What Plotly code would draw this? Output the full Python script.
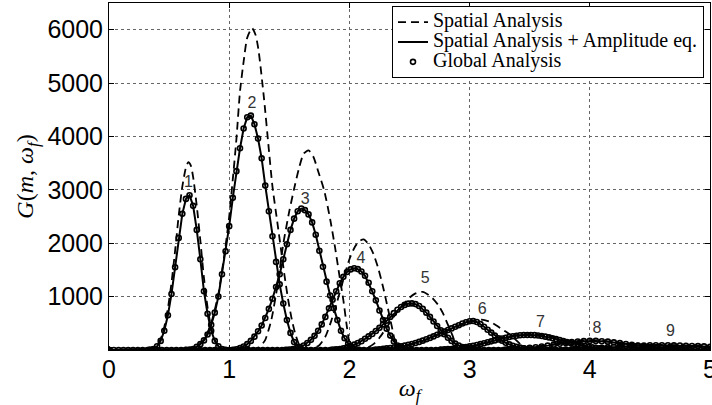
import plotly.graph_objects as go

# ---------------- data ----------------
OMEGA_TICKS = [0, 1, 2, 3, 4, 5]
G_TICKS = [1000, 2000, 3000, 4000, 5000, 6000]

# Spatial Analysis + Amplitude eq. (solid) / Global Analysis (circles), per mode
W_M1 = [0.00, 0.34, 0.37, 0.40, 0.43, 0.46, 0.49, 0.52, 0.55, 0.58, 0.61, 0.64, 0.67, 0.70, 0.73, 0.76, 0.79, 0.82, 0.85, 0.88, 0.91, 0.94, 0.97, 5.00]
G_M1 = [0, 8, 20, 70, 170, 360, 650, 1050, 1550, 2100, 2550, 2830, 2900, 2700, 2250, 1700, 1100, 680, 360, 170, 70, 20, 5, 0]

W_M2 = [0.00, 0.64, 0.67, 0.70, 0.73, 0.76, 0.79, 0.82, 0.85, 0.88, 0.91, 0.94, 0.97, 1.00, 1.03, 1.06, 1.09, 1.12, 1.15, 1.18, 1.21, 1.24, 1.27, 1.30, 1.33, 1.36, 1.39, 1.42, 1.45, 1.48, 1.51, 1.54, 1.57, 1.60, 5.00]
G_M2 = [0, 5, 10, 20, 60, 110, 180, 290, 470, 700, 1000, 1420, 1850, 2320, 2850, 3350, 3780, 4150, 4360, 4390, 4230, 3960, 3590, 3080, 2600, 2130, 1650, 1230, 870, 560, 320, 150, 60, 15, 0]

W_M3 = [0.00, 1.03, 1.06, 1.09, 1.12, 1.15, 1.18, 1.21, 1.24, 1.27, 1.30, 1.33, 1.36, 1.39, 1.42, 1.45, 1.48, 1.51, 1.54, 1.57, 1.60, 1.63, 1.66, 1.69, 1.72, 1.75, 1.78, 1.81, 1.84, 1.87, 1.90, 1.93, 1.96, 1.99, 2.02, 2.05, 2.08, 5.00]
G_M3 = [0, 5, 15, 35, 65, 110, 170, 250, 350, 460, 600, 770, 960, 1180, 1420, 1700, 1980, 2250, 2460, 2600, 2650, 2620, 2540, 2390, 2160, 1860, 1560, 1280, 1020, 780, 560, 360, 220, 120, 55, 20, 5, 0]

W_M4 = [0.00, 1.47, 1.50, 1.53, 1.56, 1.59, 1.62, 1.65, 1.68, 1.71, 1.74, 1.77, 1.80, 1.83, 1.86, 1.89, 1.92, 1.95, 1.98, 2.01, 2.04, 2.07, 2.10, 2.13, 2.16, 2.19, 2.22, 2.25, 2.28, 2.31, 2.34, 2.37, 2.40, 2.43, 2.46, 2.49, 5.00]
G_M4 = [0, 5, 10, 20, 35, 55, 85, 130, 190, 265, 360, 480, 620, 780, 940, 1100, 1250, 1370, 1460, 1510, 1530, 1515, 1470, 1390, 1260, 1100, 930, 740, 560, 400, 270, 160, 85, 40, 15, 5, 0]

W_M5 = [0.00, 1.86, 1.89, 1.92, 1.95, 1.98, 2.01, 2.04, 2.07, 2.10, 2.13, 2.16, 2.19, 2.22, 2.25, 2.28, 2.31, 2.34, 2.37, 2.40, 2.43, 2.46, 2.49, 2.52, 2.55, 2.58, 2.61, 2.64, 2.67, 2.70, 2.73, 2.76, 2.79, 2.82, 2.85, 2.88, 2.91, 2.94, 2.97, 3.00, 3.03, 5.00]
G_M5 = [0, 10, 15, 20, 30, 50, 75, 100, 130, 165, 210, 255, 300, 355, 415, 480, 550, 620, 690, 755, 805, 845, 868, 873, 860, 825, 770, 700, 620, 535, 450, 370, 295, 230, 170, 120, 85, 55, 30, 15, 5, 0]

W_M6 = [0.00, 2.22, 2.25, 2.28, 2.31, 2.34, 2.37, 2.40, 2.43, 2.46, 2.49, 2.52, 2.55, 2.58, 2.61, 2.64, 2.67, 2.70, 2.73, 2.76, 2.79, 2.82, 2.85, 2.88, 2.91, 2.94, 2.97, 3.00, 3.03, 3.06, 3.09, 3.12, 3.15, 3.18, 3.21, 3.24, 3.27, 3.30, 3.33, 3.36, 3.39, 3.42, 3.45, 3.48, 3.51, 5.00]
G_M6 = [0, 10, 15, 22, 30, 38, 48, 58, 68, 82, 97, 113, 132, 152, 175, 200, 227, 255, 285, 315, 345, 375, 405, 435, 465, 495, 520, 538, 542, 525, 485, 435, 380, 325, 270, 220, 175, 135, 105, 80, 62, 45, 32, 20, 10, 0]

W_M7 = [0.00, 2.76, 2.79, 2.82, 2.85, 2.88, 2.91, 2.94, 2.97, 3.00, 3.03, 3.06, 3.09, 3.12, 3.15, 3.18, 3.21, 3.24, 3.27, 3.30, 3.33, 3.36, 3.39, 3.42, 3.45, 3.48, 3.51, 3.54, 3.57, 3.60, 3.63, 3.66, 3.69, 3.72, 3.75, 3.78, 3.81, 3.84, 3.87, 3.90, 3.93, 3.96, 3.99, 4.02, 4.05, 4.08, 4.11, 4.14, 4.17, 5.00]
G_M7 = [0, 10, 13, 16, 20, 27, 35, 45, 55, 67, 80, 95, 110, 127, 145, 162, 180, 198, 215, 230, 245, 257, 268, 275, 280, 282, 282, 278, 272, 262, 250, 236, 220, 203, 185, 167, 150, 132, 115, 100, 85, 72, 60, 50, 40, 32, 25, 18, 12, 0]

W_M8 = [0.00, 3.30, 3.35, 3.40, 3.45, 3.50, 3.55, 3.60, 3.65, 3.70, 3.75, 3.80, 3.85, 3.90, 3.95, 4.00, 4.05, 4.10, 4.15, 4.20, 4.25, 4.30, 4.35, 4.40, 4.45, 4.50, 4.55, 4.60, 4.65, 4.70, 4.75, 4.80, 5.00]
G_M8 = [0, 10, 15, 22, 30, 40, 52, 66, 82, 100, 117, 133, 147, 158, 166, 170, 170, 165, 156, 143, 128, 112, 97, 82, 68, 55, 44, 34, 26, 19, 13, 8, 0]

W_M9 = [0.00, 3.80, 3.85, 3.90, 3.95, 4.00, 4.05, 4.10, 4.15, 4.20, 4.25, 4.30, 4.35, 4.40, 4.45, 4.50, 4.55, 4.60, 4.65, 4.70, 4.75, 4.80, 4.85, 4.90, 4.95, 5.00]
G_M9 = [0, 10, 14, 18, 23, 29, 36, 43, 50, 57, 64, 70, 76, 81, 85, 88, 90, 90, 89, 87, 84, 80, 76, 72, 67, 62]

# Spatial Analysis (dashed), per mode
WD_M1 = [0.00, 0.34, 0.37, 0.40, 0.43, 0.46, 0.49, 0.52, 0.55, 0.58, 0.61, 0.64, 0.66, 0.68, 0.70, 0.73, 0.76, 0.79, 0.82, 0.85, 0.88, 0.91, 0.94, 0.97, 5.00]
GD_M1 = [0, 10, 25, 85, 205, 430, 780, 1260, 1860, 2520, 3060, 3420, 3520, 3460, 3240, 2700, 2050, 1350, 800, 420, 190, 75, 20, 5, 0]

WD_M2 = [0.00, 0.67, 0.73, 0.79, 0.85, 0.91, 0.97, 1.00, 1.03, 1.06, 1.09, 1.12, 1.15, 1.19, 1.22, 1.245, 1.29, 1.33, 1.36, 1.40, 1.43, 1.46, 1.49, 1.52, 1.55, 1.58, 1.61, 5.00]
GD_M2 = [0, 15, 60, 190, 500, 1050, 1950, 2500, 3200, 3950, 4850, 5400, 5850, 6030, 5900, 5600, 4700, 3750, 3060, 2400, 1900, 1400, 950, 580, 300, 110, 20, 0]

WD_M3 = [0.00, 1.20, 1.25, 1.30, 1.35, 1.40, 1.45, 1.50, 1.54, 1.58, 1.62, 1.66, 1.70, 1.74, 1.79, 1.84, 1.88, 1.92, 1.95, 1.98, 2.00, 2.02, 5.00]
GD_M3 = [0, 15, 50, 190, 560, 1180, 1990, 2600, 3020, 3400, 3680, 3740, 3620, 3350, 2990, 2450, 1930, 1350, 930, 420, 140, 20, 0]

WD_M4 = [0.00, 1.65, 1.70, 1.75, 1.80, 1.85, 1.90, 1.95, 2.00, 2.05, 2.09, 2.12, 2.16, 2.20, 2.24, 2.28, 2.32, 2.35, 2.38, 2.40, 5.00]
GD_M4 = [0, 10, 30, 90, 250, 550, 920, 1320, 1700, 1950, 2050, 2070, 1980, 1800, 1530, 1180, 780, 470, 150, 20, 0]

WD_M5 = [0.00, 2.10, 2.15, 2.20, 2.25, 2.30, 2.35, 2.40, 2.45, 2.50, 2.55, 2.61, 2.66, 2.70, 2.74, 2.78, 2.82, 2.86, 2.88, 2.90, 5.00]
GD_M5 = [0, 15, 40, 110, 230, 390, 560, 720, 860, 980, 1060, 1090, 1030, 950, 840, 680, 470, 260, 110, 20, 0]

WD_M6 = [0.00, 2.40, 2.50, 2.60, 2.70, 2.80, 2.90, 3.00, 3.06, 3.10, 3.17, 3.22, 3.26, 3.30, 3.34, 3.38, 3.42, 3.46, 5.00]
GD_M6 = [0, 40, 90, 160, 250, 350, 440, 530, 565, 570, 530, 465, 405, 345, 280, 200, 110, 30, 0]

WD_M7 = [0.00, 2.90, 3.00, 3.10, 3.20, 3.30, 3.40, 3.50, 3.60, 3.70, 3.80, 3.90, 4.00, 4.08, 5.00]
GD_M7 = [0, 20, 50, 100, 170, 240, 285, 300, 285, 240, 170, 100, 40, 5, 0]

WD_M8 = [0.00, 3.40, 3.60, 3.80, 3.95, 4.05, 4.20, 4.40, 4.60, 4.75, 5.00]
GD_M8 = [0, 25, 75, 145, 180, 182, 150, 85, 30, 5, 0]

WD_M9 = [0.00, 3.90, 4.10, 4.30, 4.50, 4.60, 4.80, 5.00]
GD_M9 = [0, 20, 48, 78, 95, 97, 87, 68]

# Global Analysis points lying on the zero baseline
BASE_W = [0.00, 0.04, 0.08, 0.12, 0.16, 0.20, 0.24, 0.28, 0.32, 0.36, 0.40, 0.44, 0.48, 0.52, 0.56, 0.60, 0.64, 0.68, 0.72, 0.76, 0.80, 0.84, 0.88, 0.92, 0.96,
          1.00, 1.04, 1.08, 1.12, 1.16, 1.20, 1.24, 1.28, 1.32, 1.36, 1.40, 1.44, 1.48, 1.52, 1.56, 1.60, 1.64, 1.68, 1.72, 1.76, 1.80, 1.84, 1.88, 1.92, 1.96,
          2.00, 2.04, 2.08, 2.12, 2.16, 2.20, 2.24, 2.28, 2.32, 2.36, 2.40, 2.44, 2.48, 2.52, 2.56, 2.60, 2.64, 2.68, 2.72, 2.76, 2.80, 2.84, 2.88, 2.92, 2.96,
          3.00, 3.04, 3.08, 3.12, 3.16, 3.20, 3.24, 3.28, 3.32, 3.36, 3.40, 3.44, 3.48, 3.52, 3.56, 3.60, 3.64, 3.68, 3.72, 3.76, 3.80, 3.84, 3.88, 3.92, 3.96,
          4.00, 4.04, 4.08, 4.12, 4.16, 4.20, 4.24, 4.28, 4.32, 4.36, 4.40, 4.44, 4.48, 4.52, 4.56, 4.60, 4.64, 4.68, 4.72, 4.76, 4.80, 4.84, 4.88, 4.92, 4.96, 5.00]
BASE_G = [0] * len(BASE_W)

# Mode-number labels
LABEL_TEXT = ["1", "2", "3", "4", "5", "6", "7", "8", "9"]
LABEL_W = [0.66, 1.19, 1.633, 2.097, 2.63, 3.105, 3.59, 4.06, 4.67]
LABEL_G = [3130, 4610, 2816, 1713, 1321, 748, 498, 386, 342]

SERIES_NAMES = ["Spatial Analysis", "Spatial Analysis + Amplitude eq.", "Global Analysis"]

SOLID = [(W_M1, G_M1), (W_M2, G_M2), (W_M3, G_M3), (W_M4, G_M4), (W_M5, G_M5),
         (W_M6, G_M6), (W_M7, G_M7), (W_M8, G_M8), (W_M9, G_M9)]
DASHED = [(WD_M1, GD_M1), (WD_M2, GD_M2), (WD_M3, GD_M3), (WD_M4, GD_M4), (WD_M5, GD_M5),
          (WD_M6, GD_M6), (WD_M7, GD_M7), (WD_M8, GD_M8), (WD_M9, GD_M9)]

# ---------------- figure ----------------
fig = go.Figure()
SERIF = "Liberation Serif"
SANS = "Liberation Sans"
CIRCLE = dict(symbol="circle-open", size=5, color="black", line=dict(width=1.6))


def legend_name(s):
    return '<span style="font-size:20px">' + s + '</span>'


# mode numbers drawn first so the curves pass over them
fig.add_trace(go.Scatter(x=LABEL_W, y=LABEL_G, mode="text", text=LABEL_TEXT, showlegend=False,
                         textfont=dict(family=SANS, size=16, color="#333")))

for i, (w, g) in enumerate(DASHED):
    fig.add_trace(go.Scatter(x=w, y=g, mode="lines", name=legend_name(SERIES_NAMES[0]),
                             legendgroup="sa", showlegend=(i == 0),
                             line=dict(color="black", width=1.8, dash="8px,5px", shape="spline", smoothing=0.6)))
for i, (w, g) in enumerate(SOLID):
    fig.add_trace(go.Scatter(x=w, y=g, mode="lines", name=legend_name(SERIES_NAMES[1]),
                             legendgroup="saa", showlegend=(i == 0),
                             line=dict(color="black", width=2)))
fig.add_trace(go.Scatter(x=BASE_W, y=BASE_G, mode="markers", name=legend_name(SERIES_NAMES[2]),
                         legendgroup="ga", showlegend=False, marker=CIRCLE))
for i, (w, g) in enumerate(SOLID):
    fig.add_trace(go.Scatter(x=w, y=g, mode="markers", name=legend_name(SERIES_NAMES[2]),
                             legendgroup="ga", showlegend=(i == 0), marker=CIRCLE))

axis_common = dict(showline=True, linecolor="black", linewidth=1, mirror="ticks",
                   ticks="inside", ticklen=5, tickcolor="black",
                   showgrid=True, gridcolor="#666", griddash="dot", gridwidth=1,
                   zeroline=False, ticklabeloverflow="allow", automargin=False,
                   tickfont=dict(family=SANS, size=25, color="black"))

fig.update_layout(
    width=712, height=405,
    margin=dict(l=109, r=2, t=3, b=55, autoexpand=False),
    paper_bgcolor="white", plot_bgcolor="white",
    xaxis=dict(range=[0, 5], tickvals=OMEGA_TICKS, ticklabelstandoff=-3, **axis_common,
               title=dict(text="<i>ω<sub>f</sub></i>", font=dict(family=SERIF, size=24, color="black"), standoff=0)),
    yaxis=dict(range=[0, 6500], tickvals=G_TICKS, **axis_common,
               title=dict(text="<i>G</i>(<i>m</i>, <i>ω<sub>f</sub></i>)", font=dict(family=SERIF, size=24, color="black"), standoff=6)),
    legend=dict(x=0.99, xanchor="right", y=0.991, yanchor="top",
                bgcolor="white", bordercolor="black", borderwidth=1,
                font=dict(family=SERIF, size=13, color="black"),
                itemwidth=30, tracegroupgap=0),
    showlegend=True,
)

fig.write_html("out.html")
